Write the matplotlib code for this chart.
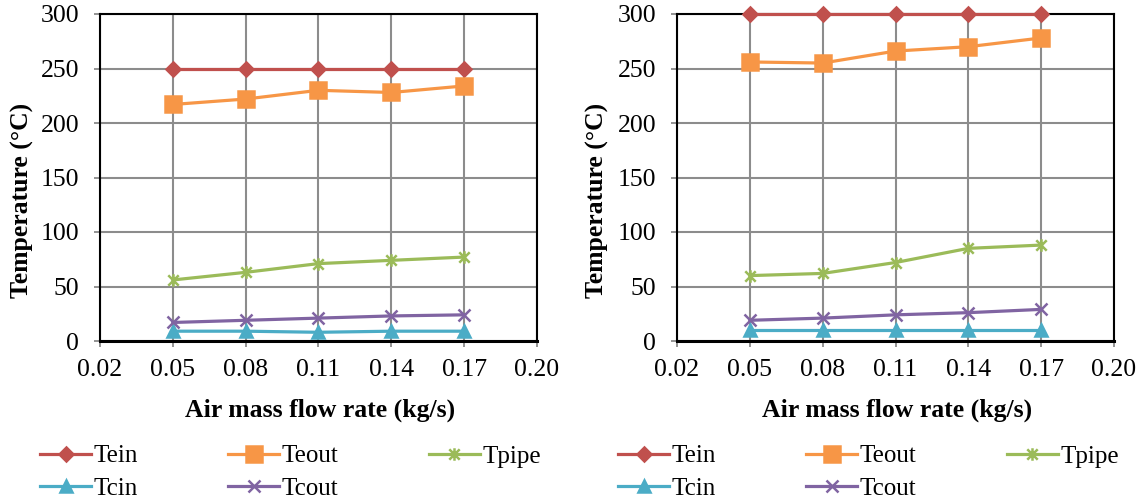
import matplotlib
matplotlib.use("Agg")
import matplotlib.pyplot as plt
from matplotlib.path import Path

plt.rcParams['font.family'] = ['Liberation Serif', 'DejaVu Serif']

flow = [0.05, 0.08, 0.11, 0.14, 0.17]
x_ticks = [0.02, 0.05, 0.08, 0.11, 0.14, 0.17, 0.20]
x_ticklabels = ["0.02", "0.05", "0.08", "0.11", "0.14", "0.17", "0.20"]
y_ticks = [0, 50, 100, 150, 200, 250, 300]

# Left panel
left_Tein = [250, 250, 250, 250, 250]
left_Teout = [217, 222, 230, 228, 234]
left_Tpipe = [56, 63, 71, 74, 77]
left_Tcin = [9, 9, 8, 9, 9]
left_Tcout = [17, 19, 21, 23, 24]

# Right panel
right_Tein = [300, 300, 300, 300, 300]
right_Teout = [256, 255, 266, 270, 278]
right_Tpipe = [60, 62, 72, 85, 88]
right_Tcin = [10, 10, 10, 10, 10]
right_Tcout = [19, 21, 24, 26, 29]

series_names = ["Tein", "Teout", "Tpipe", "Tcin", "Tcout"]
colors = ["#C0504D", "#F79646", "#9BBB59", "#4BACC6", "#8064A2"]

star = Path([(-1, -1), (1, 1), (-1, 1), (1, -1), (0, -1.2), (0, 1.2)],
            [Path.MOVETO, Path.LINETO, Path.MOVETO, Path.LINETO, Path.MOVETO, Path.LINETO])
markers = ["D", "s", star, "^", "x"]
msizes = [7.5, 11, 9, 8, 8]

W, H = 1140, 504
fig = plt.figure(figsize=(W / 100, H / 100), dpi=100)

FS = 18.5


def add_panel(x0, x1, y0, y1, data, xlab_x, ylab_x):
    ax = fig.add_axes([x0 / W, 1 - y1 / H, (x1 - x0) / W, (y1 - y0) / H])
    handles = []
    for vals, name, c, m, ms in zip(data, series_names, colors, markers, msizes):
        h, = ax.plot(flow, vals, color=c, lw=2.3, marker=m, ms=ms,
                     markerfacecolor=c, markeredgecolor=c, mew=1.8,
                     label=name, clip_on=False, zorder=3)
        handles.append(h)
    ax.set_xlim(0.02, 0.20)
    ax.set_ylim(0, 300)
    ax.set_xticks(x_ticks)
    ax.set_xticklabels(x_ticklabels)
    ax.set_yticks(y_ticks)
    ax.tick_params(axis='both', labelsize=FS, direction='out', length=4,
                   width=1.2, color='#808080')
    ax.tick_params(axis='x', pad=9)
    ax.tick_params(axis='y', pad=11)
    ax.grid(True, color='#8C8C8C', lw=1.5)
    ax.set_axisbelow(True)
    for s in ax.spines.values():
        s.set_color('black')
        s.set_linewidth(1.5)
    ax.spines['bottom'].set_linewidth(2.2)
    fig.text(xlab_x / W, 1 - 410 / H, "Air mass flow rate (kg/s)",
             ha='center', va='center', fontsize=FS, fontweight='bold')
    fig.text(ylab_x / W, 1 - 200 / H, "Temperature (\u00b0C)", rotation=90,
             ha='center', va='center', fontsize=FS, fontweight='bold')
    return ax, handles


axL, hL = add_panel(100, 537, 14, 341,
                    [left_Tein, left_Teout, left_Tpipe, left_Tcin, left_Tcout], 320, 22)
axR, hR = add_panel(677, 1114, 14, 341,
                    [right_Tein, right_Teout, right_Tpipe, right_Tcin, right_Tcout], 897, 597)

# matplotlib fills legend columns first; reorder so rows read Tein Teout Tpipe / Tcin Tcout
order = [0, 3, 1, 4, 2]
for hs, xl in ((hL, 40), (hR, 618)):
    fig.legend([hs[i] for i in order], [series_names[i] for i in order],
               loc='upper left', bbox_to_anchor=(xl / W, 1 - 445 / H),
               ncol=3, frameon=False, fontsize=18, handlelength=2.05,
               handletextpad=0.1, columnspacing=3.6, labelspacing=0.4,
               borderpad=0, borderaxespad=0)

fig.savefig("out.png", dpi=100)
